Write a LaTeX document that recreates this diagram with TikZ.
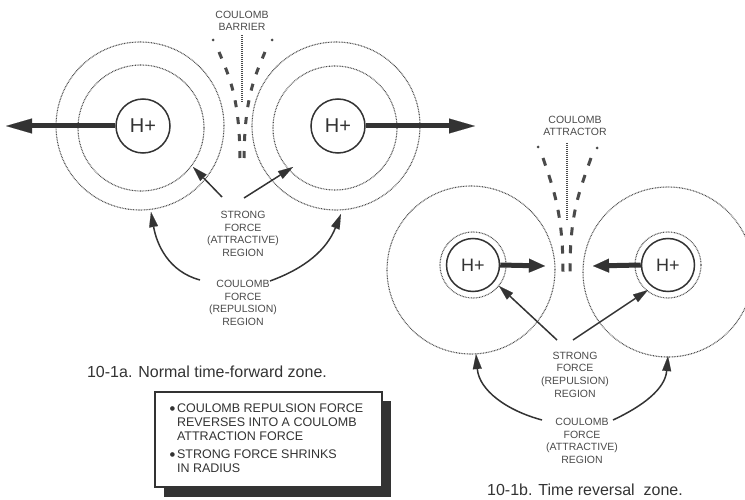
\documentclass[tikz,border=0pt]{standalone}
\usepackage{fontspec}
\setmainfont{Liberation Sans}
\newfontfamily\dejavu{DejaVu Sans}
\usetikzlibrary{arrows.meta}
\definecolor{ink}{HTML}{333333}
\definecolor{lab}{HTML}{4A4A4A}
\definecolor{dotc}{HTML}{4A4A4A}
\newcommand{\boxbullet}{\raisebox{1.5pt}{\dejavu\fontsize{6}{6}\selectfont ●}}
\begin{document}
\begin{tikzpicture}[x=1pt,y=1pt,
  field/.style={draw=dotc, line width=1.1pt, dash pattern=on 0.8pt off 0.8pt},
  proton/.style={circle, draw=ink, line width=1.5pt, minimum size=54pt, inner sep=0pt, text=ink},
  lbl/.style={align=center, font=\fontsize{10.5}{12.6}\selectfont, text=lab, inner sep=0pt},
  bigarrow/.style={draw=ink, line width=5pt, -{Triangle[length=26pt,width=15pt,line width=0.1pt]}},
  midarrow/.style={draw=ink, line width=5pt, -{Triangle[length=16pt,width=14pt,line width=0.1pt]}},
  thinarrow/.style={draw=ink, line width=1.5pt, -{Triangle[length=15pt,width=9pt,line width=0.1pt]}},
  barrier/.style={draw=dotc, line width=3pt, dash pattern=on 7pt off 10pt},
  barrierdot/.style={fill=dotc, circle, inner sep=0pt, minimum size=3pt},
  centerline/.style={draw=dotc, line width=1.2pt, dash pattern=on 1pt off 1pt},
  caption/.style={font=\fontsize{16}{18}\selectfont, text=ink, inner sep=0pt}
]
\useasboundingbox (0,0) rectangle (745,-500);

% ===== 10-1a =====
\draw[field] (141,-128) circle[radius=63];
\draw[field] (140,-126) circle[radius=84];
\draw[field] (335,-128) circle[radius=62];
\draw[field] (336,-126) circle[radius=84];

\node[proton, font=\fontsize{20}{20}\selectfont] (pL) at (143,-126) {H+};
\node[proton, font=\fontsize{20}{20}\selectfont] (pR) at (338,-126) {H+};
\coordinate (endL) at (6,-126);
\coordinate (endR) at (475,-126);
\draw[bigarrow] (pL.west) -- (endL);
\draw[bigarrow] (pR.east) -- (endR);

\node[lbl] (barrierlbl) at (242,-21) {COULOMB\\BARRIER};
\node[barrierdot] (bdl) at (213,-40) {};
\node[barrierdot] (bdr) at (272,-40) {};
\draw[barrier] (219,-52) .. controls (230,-78) and (240,-100) .. (240,-163);
\draw[barrier] (265,-52) .. controls (254,-78) and (244,-100) .. (244,-163);
\draw[centerline] (242,-35) -- (242,-102);

\node[lbl] (strongA) at (243,-234) {STRONG\\FORCE\\(ATTRACTIVE)\\REGION};
\node[lbl] (coulA) at (243,-303) {COULOMB\\FORCE\\(REPULSION)\\REGION};
\coordinate (sA1) at (222,-197);
\coordinate (sA1t) at (193,-167);
\coordinate (sA2) at (244,-198);
\coordinate (sA2t) at (293,-167);
\draw[thinarrow] (sA1) -- (sA1t);
\draw[thinarrow] (sA2) -- (sA2t);
\coordinate (cA1) at (200,-280);
\coordinate (cA1t) at (151,-212);
\coordinate (cA2) at (270,-281);
\coordinate (cA2t) at (341,-214);
\draw[thinarrow] (cA1) to[out=165,in=-80] (cA1t);
\draw[thinarrow] (cA2) to[out=20,in=-112] (cA2t);

\node[caption] (capA) at (207,-372) {10-1a. Normal time-forward zone.};

% box
\fill[ink] (164,-401) rectangle (391,-497);
\node[draw=ink, fill=white, line width=1.8pt, minimum width=227pt, minimum height=95pt, inner sep=0pt,
      font=\fontsize{12.5}{14}\selectfont, text=ink] (box) at (268.5,-439.5)
  {\hspace*{-4pt}\begin{tabular}{@{}l@{\hspace{2pt}}l@{}}
   \boxbullet & COULOMB REPULSION FORCE\\
   & REVERSES INTO A COULOMB\\
   & ATTRACTION FORCE\\[4pt]
   \boxbullet & STRONG FORCE SHRINKS\\
   & IN RADIUS
  \end{tabular}};

% ===== 10-1b =====
\draw[field] (471,-270) circle[radius=84];
\draw[field] (668,-272) circle[radius=85];
\draw[field] (473,-265) circle[radius=33];
\draw[field] (668,-265) circle[radius=33];
\node[proton, minimum size=53pt, font=\fontsize{18}{18}\selectfont] (qL) at (473,-265) {H+};
\node[proton, minimum size=53pt, font=\fontsize{18}{18}\selectfont] (qR) at (668,-265) {H+};
\coordinate (eqL) at (545,-266);
\coordinate (eqR) at (593,-266);
\draw[midarrow] (qL.east) -- (eqL);
\draw[midarrow] (qR.west) -- (eqR);

\node[lbl] (attrlbl) at (575,-126) {COULOMB\\ATTRACTOR};
\node[barrierdot] (adl) at (538,-147) {};
\node[barrierdot] (adr) at (597,-148) {};
\draw[barrier, dash pattern=on 8pt off 10pt] (543,-158) .. controls (554,-190) and (563,-215) .. (563,-272);
\draw[barrier, dash pattern=on 8pt off 10pt] (591,-158) .. controls (578,-195) and (570,-215) .. (570,-272);
\draw[centerline] (567,-143) -- (567,-220);

\node[lbl] (strongB) at (575,-374.5) {STRONG\\FORCE\\(REPULSION)\\REGION};
\node[lbl] (coulB) at (582,-441) {COULOMB\\FORCE\\(ATTRACTIVE)\\REGION};
\coordinate (sB1) at (557,-340);
\coordinate (sB1t) at (499,-286);
\coordinate (sB2) at (573,-340);
\coordinate (sB2t) at (648,-290);
\draw[thinarrow] (sB1) -- (sB1t);
\draw[thinarrow] (sB2) -- (sB2t);
\coordinate (cB1) at (542,-420);
\coordinate (cB1t) at (476,-354);
\coordinate (cB2) at (613,-420);
\coordinate (cB2t) at (668,-356);
\draw[thinarrow] (cB1) to[out=165,in=-85] (cB1t);
\draw[thinarrow] (cB2) to[out=25,in=-95] (cB2t);

\node[caption] (capB) at (585,-490) {10-1b. Time reversal\ \ zone.};
\end{tikzpicture}
\end{document}
